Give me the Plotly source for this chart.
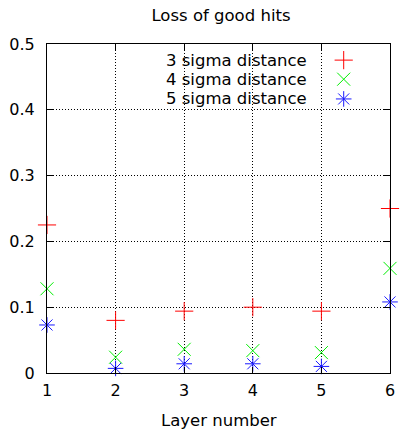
import plotly.graph_objects as go

layers = [1, 2, 3, 4, 5, 6]
sigma3 = [0.225, 0.080, 0.094, 0.100, 0.094, 0.250]
sigma4 = [0.128, 0.024, 0.036, 0.034, 0.031, 0.159]
sigma5 = [0.073, 0.007, 0.014, 0.014, 0.010, 0.108]
names = ["3 sigma distance", "4 sigma distance", "5 sigma distance"]
colors = ["#ff0000", "#00ee00", "#1a1aff"]
symbols = ["cross-thin-open", "x-thin-open", "asterisk-open"]
sizes = [13, 13, 13]
yticks = [0, 0.1, 0.2, 0.3, 0.4, 0.5]
yticktext = ["0", "0.1", "0.2", "0.3", "0.4", "0.5"]

FONT = "DejaVu Sans"
FS = 16
FS_TXT = 16.5

fig = go.Figure()
for ys, nm, c, s, sz in zip([sigma3, sigma4, sigma5], names, colors, symbols, sizes):
    fig.add_trace(go.Scatter(
        x=layers, y=ys, mode="markers", name=nm, showlegend=False,
        cliponaxis=False,
        marker=dict(symbol=s, size=sz, color=c, line=dict(color=c, width=1)),
    ))

# manual legend (text right-aligned, symbol on right like gnuplot)
leg_y = [0.951, 0.893, 0.833]
for nm, c, s, sz, ly in zip(names, colors, symbols, sizes, leg_y):
    fig.add_trace(go.Scatter(
        x=[0.865], y=[ly], xaxis="x2", yaxis="y2", mode="markers", showlegend=False,
        cliponaxis=False,
        marker=dict(symbol=s, size=sz, color=c, line=dict(color=c, width=1)),
    ))
    fig.add_annotation(x=0.764, y=ly, xref="x2", yref="y2", text=nm, showarrow=False,
                       xanchor="right", yanchor="middle",
                       font=dict(size=FS_TXT, color="black", family=FONT))

fig.add_annotation(x=0.5, y=-0.143, xref="paper", yref="paper", text="Layer number",
                   showarrow=False, xanchor="center", yanchor="middle",
                   font=dict(size=FS_TXT, color="black", family=FONT))

axis_common = dict(
    showgrid=True, gridcolor="black", griddash="1px,2px", gridwidth=1,
    showline=True, linecolor="black", linewidth=1, mirror="ticks",
    ticks="inside", ticklen=6, tickcolor="black", zeroline=False,
)

fig.update_layout(
    width=404, height=429,
    margin=dict(l=47, r=9, t=44, b=56),
    paper_bgcolor="white", plot_bgcolor="white",
    font=dict(family=FONT, size=FS, color="black"),
    title=dict(text="Loss of good hits", x=221 / 404, xanchor="center",
               y=1 - 15.5 / 429, yanchor="middle", font=dict(size=FS_TXT)),
    xaxis=dict(range=[1, 6], tickvals=layers, ticktext=[str(v) for v in layers],
               ticklabelstandoff=3, **axis_common),
    yaxis=dict(range=[0, 0.5], tickvals=yticks, ticktext=yticktext,
               ticklabelstandoff=8, **axis_common),
    xaxis2=dict(range=[0, 1], overlaying="x", visible=False),
    yaxis2=dict(range=[0, 1], overlaying="y", visible=False),
)

fig.write_html("out.html", config={"displayModeBar": False},
               post_script="document.body.style.margin='0';")
